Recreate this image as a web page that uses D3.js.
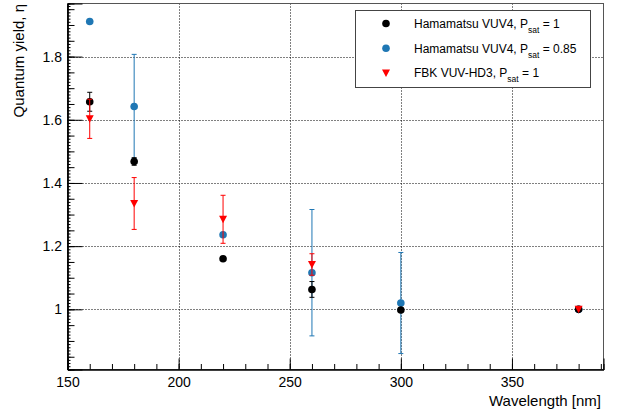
<!DOCTYPE html>
<html>
<head>
<meta charset="utf-8">
<script src="https://cdn.jsdelivr.net/npm/d3@7"></script>
<style>
  body { margin: 0; background: #fff; }
  svg { display: block; font-family: "Liberation Sans", Arial, sans-serif; }
</style>
</head>
<body>
<svg id="chart" width="628" height="410"></svg>
<script>
// wavelengths in nm, yields
const wavelengths = [160, 180, 220, 260, 300, 380]
const vuv4Sat1 = [1.657, 1.468, 1.160, 1.063, 0.998, 1.0]
const vuv4Sat1Err = [0.03, 0.012, 0, 0.025, 0, 0]
const vuv4Sat085 = [1.911, 1.642, 1.236, 1.116, 1.020, 1.0]
const vuv4Sat085Err = [0, 0.165, 0, 0.2, 0.16, 0]
const fbkWavelengths = [160, 180, 220, 260, 380]
const fbkSat1 = [1.603, 1.335, 1.285, 1.142, 1.0]
const fbkSat1Err = [0.062, 0.082, 0.076, 0.034, 0]

const xMajor = [150, 200, 250, 300, 350]
const yMajor = [1, 1.2, 1.4, 1.6, 1.8]

const legendItems = [
  {label: "Hamamatsu VUV4, P", sub: "sat", rest: " = 1", color: "#000", shape: "circle"},
  {label: "Hamamatsu VUV4, P", sub: "sat", rest: " = 0.85", color: "#1f77b4", shape: "circle"},
  {label: "FBK VUV-HD3, P", sub: "sat", rest: " = 1", color: "#ff0000", shape: "triangle"}
]

const svg = d3.select("#chart")
const margin = {left: 67.5, top: 3.5, right: 24.5, bottom: 40.5}
const W = 628, H = 410

const x = d3.scaleLinear().domain([150, 391.2]).range([margin.left, W - margin.right])
const y = d3.scaleLinear().domain([0.8096, 1.968]).range([H - margin.bottom, margin.top])

// grid (dotted)
const grid = svg.append("g").attr("stroke", "#000").attr("stroke-dasharray", "1,2").attr("stroke-width", 1)
grid.selectAll(".gx").data(xMajor.filter(d => d > 150)).enter().append("line")
  .attr("x1", d => Math.round(x(d)) + 0.5).attr("x2", d => Math.round(x(d)) + 0.5)
  .attr("y1", margin.top).attr("y2", H - margin.bottom)
grid.selectAll(".gy").data(yMajor).enter().append("line")
  .attr("y1", d => Math.round(y(d)) + 0.5).attr("y2", d => Math.round(y(d)) + 0.5)
  .attr("x1", margin.left).attr("x2", W - margin.right)

// frame
svg.append("rect")
  .attr("x", margin.left).attr("y", margin.top)
  .attr("width", W - margin.left - margin.right).attr("height", H - margin.top - margin.bottom)
  .attr("fill", "none").attr("stroke", "#555")

// axes, ticks pointing inside like ROOT
const xAxis = svg.append("g").attr("transform", `translate(0,${H - margin.bottom})`)
  .call(d3.axisBottom(x).tickValues(xMajor).tickSize(-11).tickPadding(7.5).tickFormat(d3.format("d")))
svg.append("g").attr("transform", `translate(0,${H - margin.bottom})`)
  .call(d3.axisBottom(x).tickValues(d3.range(160, 391, 10)).tickSize(-5.5).tickFormat(""))

const yAxis = svg.append("g").attr("transform", `translate(${margin.left},0)`)
  .call(d3.axisLeft(y).tickValues(yMajor).tickSize(-15).tickPadding(5.5).tickFormat(d => d == 1 ? "1" : d3.format(".1f")(d)))
svg.append("g").attr("transform", `translate(${margin.left},0)`)
  .call(d3.axisLeft(y).tickValues(d3.range(0.85, 1.96, 0.05)).tickSize(-7).tickFormat(""))
svg.append("g").attr("transform", `translate(${margin.left},0)`)
  .call(d3.axisLeft(y).tickValues(d3.range(0.81, 1.965, 0.01)).tickSize(-3).tickFormat(""))

svg.selectAll(".domain").attr("stroke", "#000")
svg.selectAll(".tick line").attr("stroke", "#000")
svg.selectAll(".tick text").attr("font-size", 14).attr("fill", "#000")
  .attr("font-family", "Liberation Sans, Arial, sans-serif")

// axis titles
svg.append("text").attr("x", 601).attr("y", 406).attr("text-anchor", "end")
  .attr("font-size", 15).text("Wavelength [nm]")
svg.append("text").attr("transform", "translate(24,4) rotate(-90)").attr("text-anchor", "end")
  .attr("font-size", 15).text("Quantum yield, η")

// one series = error bars + markers
function drawSeries(xs, ys, errs, color, shape) {
  const g = svg.append("g")
  const rows = xs.map((w, i) => ({w: w, v: ys[i], e: errs[i]}))
  const withErr = rows.filter(d => d.e > 0)
  g.selectAll(".bar").data(withErr).enter().append("line")
    .attr("x1", d => x(d.w)).attr("x2", d => x(d.w))
    .attr("y1", d => y(d.v - d.e)).attr("y2", d => y(d.v + d.e))
    .attr("stroke", color)
  ;[-1, 1].forEach(s => {
    g.selectAll(".cap" + s).data(withErr).enter().append("line")
      .attr("x1", d => x(d.w) - 2.5).attr("x2", d => x(d.w) + 2.5)
      .attr("y1", d => y(d.v + s * d.e)).attr("y2", d => y(d.v + s * d.e))
      .attr("stroke", color)
  })
  if (shape == "circle") {
    g.selectAll(".pt").data(rows).enter().append("circle")
      .attr("cx", d => x(d.w)).attr("cy", d => y(d.v)).attr("r", 3.8).attr("fill", color)
  } else {
    g.selectAll(".pt").data(rows).enter().append("path")
      .attr("d", d => triangle(x(d.w), y(d.v))).attr("fill", color)
  }
}

function triangle(cx, cy) {
  return `M${cx - 4},${cy - 3.5}L${cx + 4},${cy - 3.5}L${cx},${cy + 4}Z`
}

drawSeries(wavelengths, vuv4Sat085, vuv4Sat085Err, "#1f77b4", "circle")
drawSeries(wavelengths, vuv4Sat1, vuv4Sat1Err, "#000", "circle")
drawSeries(fbkWavelengths, fbkSat1, fbkSat1Err, "#ff0000", "triangle")

// legend
const lg = svg.append("g")
lg.append("rect").attr("x", 355.5).attr("y", 10.5).attr("width", 235).attr("height", 77)
  .attr("fill", "#fff").attr("stroke", "#444")
legendItems.forEach((it, i) => {
  const cy = 23.5 + i * 24.7
  if (it.shape == "circle") lg.append("circle").attr("cx", 386).attr("cy", cy).attr("r", 3.8).attr("fill", it.color)
  else lg.append("path").attr("d", triangle(386, cy)).attr("fill", it.color)
  const t = lg.append("text").attr("x", 414).attr("y", cy + 4.5).attr("font-size", 12).attr("fill", "#000")
  t.append("tspan").text(it.label)
  t.append("tspan").attr("font-size", 8.5).attr("dy", 5).text(it.sub)
  t.append("tspan").attr("dy", -5).text(it.rest)
})
</script>
</body>
</html>
